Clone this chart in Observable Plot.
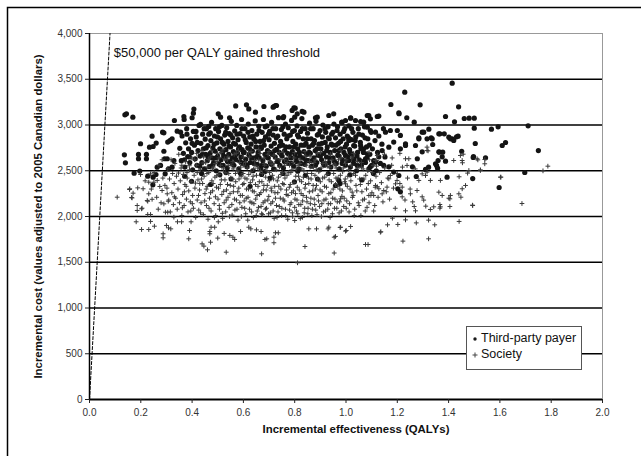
<!DOCTYPE html>
<html><head><meta charset="utf-8">
<script src="https://cdn.jsdelivr.net/npm/d3@7"></script>
<script src="https://cdn.jsdelivr.net/npm/@observablehq/plot@0.6"></script>
<style>
body{margin:0;background:#fff;}
#wrap{position:relative;width:641px;height:456px;overflow:hidden;background:#fff;}
#wrap > svg{position:absolute;left:0;top:0;}
#legend{position:absolute;left:466px;top:326px;width:114px;height:42px;border:1px solid #555;background:#fff;font-family:"Liberation Sans",Arial,sans-serif;font-size:12.5px;color:#111;}
#legend .row{position:absolute;left:4px;height:16px;line-height:16px;white-space:nowrap;}
#legend svg{vertical-align:middle;margin-right:2px;}
</style></head><body>
<div id="wrap"><div id="legend"></div></div>
<script>
const xTicks = [0, 0.2, 0.4, 0.6, 0.8, 1.0, 1.2, 1.4, 1.6, 1.8, 2.0];
const yTicks = [0, 500, 1000, 1500, 2000, 2500, 3000, 3500, 4000];
const seriesNames = ["Third-party payer", "Society"];
const thresholdPerQALY = 50000;
const thresholdLabel = "$50,000 per QALY gained threshold";
const xTitle = "Incremental effectiveness (QALYs)";
const yTitle = "Incremental cost (values adjusted to 2005 Canadian dollars)";

// Third-party payer: [QALYs, cost]
const thirdParty = [
[0.138,3111],[0.144,3122],[0.169,3086],[0.136,2674],[0.140,2587],[0.174,2474],[0.199,2795],[0.191,2678],[0.222,2678],[0.191,2631],[0.222,2631],[0.196,2496],[0.227,2441],[0.248,2765],[0.260,2802],[0.244,2878],[0.285,2922],[0.264,2539],[0.277,2558],[0.248,2430],[0.259,2459],[0.295,2466],[0.308,2521],[0.305,2813],[0.316,2831],[0.331,3049],[0.342,2933],[0.368,3093],[0.407,3175],[0.400,3079],[0.502,3122],[0.570,3209],[0.612,3221],[0.621,3176],[0.647,3140],[0.680,3202],[0.719,3202],[0.729,3213],[0.790,3159],[0.802,3184],[0.829,3148],[0.800,3086],[0.755,3079],[0.546,3079],[0.511,3086],[0.881,3079],[0.433,3006],[0.465,2984],
[0.247,2346],[0.234,2758],[0.290,2915],[0.290,2713],[0.293,2631],[0.303,2631],[0.313,2827],[0.322,2849],[0.355,2922],[0.329,2612],[0.322,2539],[0.405,3129],[0.369,3060],
[1.414,3457],[1.229,3359],[1.175,3224],[1.289,3221],[1.439,3199],[1.207,3123],[1.388,3093],[1.461,3071],[1.480,3075],[1.500,3075],[1.237,3079],[1.266,3031],[1.423,3035],[1.500,2965],[1.567,2954],[1.593,2980],[1.710,2991],[1.504,2798],[1.609,2776],[1.622,2809],[1.750,2721],[1.377,2703],[1.364,2703],[1.497,2656],[1.697,2481],[1.597,2317],[1.494,2415],[1.394,2430],[1.388,2605],[1.353,2558],[1.359,2612],[1.322,2539],[1.274,2437],[1.431,2871],[1.414,2849],[1.401,2867],[1.383,2904],[1.366,2904],[1.323,2954],[1.297,2922],[1.284,2860],[1.332,2860],[1.338,2787],[1.357,2528],[1.202,2303],[1.437,2878],[1.451,2713],[1.496,2645],[1.544,2641],
[1.206,3133],[1.128,3097],[1.089,3104],[1.095,3068],[1.018,3075],[1.037,3049],[1.057,3038],[1.069,3031],[0.985,3031],[0.998,3049],[1.083,2976],[1.095,2940],[1.115,2922],[1.154,2922],[1.173,2940],[1.200,2940],[1.212,2886],[1.232,2795],[1.271,2776],[1.284,2849],[1.303,2922],[1.316,2849],[1.336,2849],[1.362,2904],[1.407,2849],[1.420,2831],[1.362,2707],[1.375,2652],[1.349,2576],[1.259,2543],[1.310,2514],[1.206,2448],[1.186,2485],[1.167,2543],[1.147,2558],[1.115,2594],[1.128,2652],[1.076,2631],[1.083,2685],[1.057,2776],[1.069,2740],[1.141,2721],[1.167,2758],[1.186,2813],[1.212,2740],[1.232,2776],[1.011,2831],[1.030,2776],[0.972,2721],[0.998,2667],[1.011,2612],[1.030,2631],[1.044,2558],[1.095,2543],[1.278,2631],[1.297,2707],[1.212,2270],[0.959,2339],[0.972,2394],
[0.725,3213],[0.716,3195],[0.757,3093],[0.797,3188],[0.810,3122],[0.836,3140],[0.888,3086],[0.933,3104],[0.952,3122],[1.018,3079],[1.083,3104],[1.122,3093],
[0.352,2745],[0.358,2610],[0.361,2880],[0.366,2690],[0.372,2540],[0.375,2805],[0.379,2960],[0.383,2655],[0.386,2740],[0.391,2590],[0.394,2850],[0.398,2700],[0.402,2510],[0.405,2930],[0.409,2780],[0.412,2630],[0.416,2870],[0.419,2560],[0.423,2720],[0.427,2995],[0.431,2660],[0.434,2800],[0.438,2590],[0.441,2900],[0.444,2740],[0.448,2520],[0.451,2845],[0.453,2680],
[0.456,2960],[0.459,2610],[0.462,2775],[0.465,2900],[0.467,2545],[0.470,2690],[0.473,2830],[0.476,3030],[0.478,2640],[0.481,2750],[0.484,2590],[0.487,2880],[0.489,2715],[0.492,2960],[0.494,2500],[0.497,2805],[0.500,2660],[0.503,2930],[0.505,2575],[0.508,2740],[0.511,2850],[0.513,2620],[0.516,2995],[0.519,2700],[0.521,2560],[0.524,2790],[0.527,2890],[0.529,2650],[0.532,2730],[0.535,2970],[0.537,2530],[0.540,2820],[0.543,2680],[0.545,2905],[0.548,2600],[0.550,2760],
[0.553,3040],[0.556,2640],[0.558,2860],[0.561,2710],[0.563,2560],[0.566,2935],[0.569,2790],[0.571,2620],[0.574,2995],[0.577,2690],[0.579,2840],[0.582,2520],[0.585,2760],[0.587,2905],[0.590,2650],[0.593,3060],[0.595,2730],[0.598,2580],[0.601,2880],[0.603,2700],[0.606,2960],[0.609,2625],[0.611,2810],[0.614,2545],[0.617,2750],[0.619,3010],[0.622,2670],[0.625,2870],[0.627,2590],[0.630,2790],[0.633,2940],[0.635,2715],[0.638,2500],[0.641,2845],[0.643,2640],[0.646,3045],[0.649,2760],
[0.652,2900],[0.654,2570],[0.657,2700],[0.660,2985],[0.662,2640],[0.665,2820],[0.668,2530],[0.670,2745],[0.673,2920],[0.676,2610],[0.678,3060],[0.681,2780],[0.684,2680],[0.686,2870],[0.689,2550],[0.692,2990],[0.694,2720],[0.697,2640],[0.700,2840],[0.702,2930],[0.705,2590],[0.708,2770],[0.710,3030],[0.713,2680],[0.716,2890],[0.718,2520],[0.721,2800],[0.724,2650],[0.726,2960],[0.729,2735],[0.732,2600],[0.734,2880],[0.737,3080],[0.740,2700],[0.742,2560],[0.745,2820],[0.748,2950],
[0.751,2660],[0.753,2780],[0.756,2530],[0.759,2900],[0.761,2720],[0.764,3010],[0.767,2620],[0.769,2850],[0.772,2690],[0.775,2970],[0.777,2580],[0.780,2760],[0.783,2890],[0.785,2640],[0.788,3050],[0.791,2710],[0.793,2820],[0.796,2550],[0.799,2940],[0.801,2680],[0.804,2790],[0.807,2600],[0.809,2990],[0.812,2740],[0.815,2870],[0.817,2520],[0.820,2660],[0.823,2930],[0.825,2780],[0.828,3070],[0.831,2640],[0.833,2850],[0.836,2710],[0.839,2570],[0.841,2960],[0.844,2800],[0.847,2680],
[0.850,2910],[0.853,2610],[0.855,2760],[0.858,3020],[0.861,2690],[0.864,2850],[0.866,2550],[0.869,2780],[0.872,2960],[0.875,2640],[0.877,2830],[0.880,2720],[0.883,3040],[0.886,2590],[0.888,2890],[0.891,2670],[0.894,2790],[0.897,2510],[0.899,2940],[0.902,2740],[0.905,2620],[0.908,2870],[0.910,3000],[0.913,2690],[0.916,2560],[0.919,2810],[0.921,2920],[0.924,2650],[0.927,2760],[0.930,2980],[0.933,2590],[0.935,2850],[0.938,2700],[0.941,2540],[0.944,2900],[0.947,2780],
[0.950,2640],[0.953,3010],[0.956,2720],[0.959,2860],[0.962,2580],[0.965,2940],[0.968,2670],[0.971,2800],[0.974,2520],[0.977,2900],[0.980,2740],[0.983,3030],[0.986,2620],[0.989,2850],[0.992,2700],[0.995,2960],[0.998,2560],[1.002,2790],[1.005,2880],[1.008,2650],[1.011,2990],[1.014,2730],[1.017,2540],[1.021,2840],[1.024,2680],[1.027,2920],[1.031,2610],[1.034,2770],[1.038,2870],[1.041,2500],[1.045,2700],[1.048,2960],
[1.052,2620],[1.056,2810],[1.060,2560],[1.064,2890],[1.068,2700],[1.072,2980],[1.076,2590],[1.080,2760],[1.085,2850],[1.089,2520],[1.093,2680],[1.098,2920],[1.103,2740],[1.108,2610],[1.113,2830],[1.118,2500],[1.123,2700],[1.128,2880],[1.134,2580],[1.140,2790],[1.146,2960],[1.152,2650],
[0.371,2440],[0.398,2385],[0.437,2470],[0.472,2350],[0.508,2455],[0.552,2410],[0.589,2470],[0.626,2330],[0.671,2460],[0.704,2420],[0.755,2470],[0.799,2380],[0.842,2450],[0.889,2410],[0.931,2470],[0.977,2360],[1.016,2455],[1.062,2400],[1.107,2470],[0.532,2480],[0.683,2490],[0.812,2495],
[0.462,2655],[0.471,2915],[0.479,2560],[0.486,2790],[0.493,2640],[0.499,2870],[0.507,2980],[0.512,2560],[0.518,2810],[0.523,2660],[0.531,2920],[0.538,2600],[0.544,2770],[0.551,2890],[0.557,2580],[0.562,2800],[0.568,2660],[0.575,2900],[0.581,2740],[0.588,2600],[0.594,2960],[0.600,2700],[0.607,2840],[0.613,2560],[0.618,2920],[0.624,2740],[0.631,2640],[0.637,2880],[0.642,2580],[0.648,2820],[0.655,2660],[0.661,2940],[0.667,2760],[0.672,2560],[0.679,2830],[0.685,2980],[0.691,2650],[0.698,2900],[0.703,2700],[0.709,2570],[0.715,2960],[0.722,2720],[0.728,2860],[0.735,2610],[0.741,2770],[0.747,2680],[0.754,2980],[0.760,2600],[0.766,2760],[0.773,2880],[0.779,2680],[0.786,2580],[0.792,2930],[0.798,2760],[0.805,2640],[0.811,2890],[0.818,2700],[0.824,2580],[0.830,2960],[0.837,2780],[0.843,2620],[0.849,2850],[0.856,2700],[0.862,2960],[0.868,2610],[0.874,2800],[0.881,2560],[0.887,2740],[0.893,2900],[0.900,2660],[0.906,2800],[0.912,2580],[0.918,2960],[0.925,2720],[0.931,2860],[0.937,2640],[0.943,2790],[0.949,2920],[0.955,2600],[0.961,2780],[0.967,2980],[0.973,2660],[0.979,2820],[0.985,2580],[0.991,2930],[0.997,2760],[1.004,2610],[1.010,2860],[1.016,2700],[1.022,2960],[1.029,2580],[1.036,2830],[1.043,2660],[1.050,2900],[1.058,2740],[1.066,2600],[1.074,2860],[1.082,2640],[1.091,2780],[1.100,2560],[0.420,2810],[0.430,2550],[0.440,2680],[0.447,2960],[0.455,2750],[0.390,2650],[0.400,2800],[0.380,2900],[0.370,2620],[0.415,2930]
];

// Society: [QALYs, cost]
const society = [
[0.108,2211],[0.164,2208],[0.186,2120],[0.186,2066],[0.227,2167],[0.203,2084],[0.227,2022],[0.238,2022],[0.182,1942],[0.203,1858],[0.231,1858],[0.238,1946],[0.253,1894],[0.287,1811],[0.287,1767],[0.300,1902],[0.308,1876],[0.317,1865],[0.307,2167],[0.296,2047],[0.343,1942],[0.359,1942],[0.387,1756],[0.390,1847],[0.396,1942],[0.439,1701],[0.446,1676],[0.460,1636],[0.472,1719],[0.500,1764],[0.533,1610],[0.525,1815],[0.547,1793],[0.559,1774],[0.566,1749],[0.589,1836],[0.469,1836],[0.469,1811],[0.474,1883],[0.488,1883],[0.502,1942],[0.621,1883],[0.629,1865],[0.651,1854],[0.669,1836],[0.671,1592],[0.684,1749],[0.691,1756],[0.719,1774],[0.719,1713],[0.725,1822],[0.736,1822],[0.811,1494],[0.840,1672],[0.954,1774],[0.954,1601],[0.979,1883],[0.930,1865],[0.933,1883],[0.855,1865],[0.885,1865],[0.800,1956],[0.998,1840],[1.076,1694],[1.086,1694],[1.134,1829],[1.222,1731],[1.322,1756],[1.001,1847],[0.977,1880],[1.018,1891],[0.959,1782],
[1.787,2550],[1.768,2499],[1.686,2142],[1.604,2430],[1.493,2124],[1.441,1946],[1.541,2623],[1.541,2576],[1.514,2619],[1.474,2474],[1.524,2503],[1.454,2587],[1.457,2681],[1.441,2434],[1.320,2717],[1.448,2211],[1.401,2200],[1.366,2131],[1.366,2091],[1.405,2109],[1.329,2077],[1.311,2113],[1.271,2062],[1.266,2109],[1.346,1909],[1.322,1960],[1.274,1930],[1.232,1963],[1.202,1913],[1.162,1909],[1.181,1982],[1.232,2062],[1.136,1833],
[0.157,2303],[0.170,2255],[0.209,2303],[0.231,2248],[0.251,2375],[0.225,2175],[0.156,2295],[0.188,2313],[0.166,2203],[0.205,2091],[0.199,2459],[0.238,2466],[0.231,2375],[0.264,2394],[0.274,2328],[0.244,2188],[0.283,2284],[0.303,2248],[0.290,2138],[0.305,2047],[0.329,1993],
[1.122,2325],[1.147,2284],[1.160,2321],[1.108,2230],[1.199,2394],[1.219,2321],[1.251,2248],[1.277,2284],[1.297,2215],[1.303,2179],[1.329,2394],[1.310,2448],[1.368,2394],[1.407,2230],[1.405,2193],[1.440,2248],[1.453,2303],[1.466,2339],[1.494,2120],[1.420,2612],[1.453,2612],[1.479,2503],[1.524,2510],[1.602,2430],[1.446,2667],[1.511,2631],[1.316,2721],[1.316,2758],[1.342,2106],[1.368,2106],
[1.122,2667],[1.115,2612],[1.232,2631],[1.245,2631],[1.238,2558],[1.167,2412],[1.173,2448],[1.297,2466],[1.316,2485],[1.284,2394],[1.115,2339],[1.128,2303],[1.089,2230],[1.141,2248],[1.362,2266],[1.375,2230],[0.998,2357],[1.024,2266],[0.979,2193],[1.193,2357],[1.219,2215],
[0.252,2480],[0.262,2210],[0.271,2560],[0.279,2150],[0.286,2420],[0.294,2340],[0.241,2300],[0.217,2390],[0.268,2080],[0.283,2620],
[0.302,2310],[0.305,2520],[0.309,2180],[0.312,2410],[0.315,2050],[0.318,2620],[0.321,2260],[0.324,2470],[0.327,2130],[0.330,2360],[0.333,2580],[0.336,2200],[0.339,2440],[0.342,2080],[0.345,2300],[0.348,2680],[0.351,2150],[0.354,2390],[0.357,2530],[0.360,2010],[0.363,2240],[0.366,2460],[0.369,2120],[0.372,2350],[0.375,2600],[0.378,2190],[0.381,2420],[0.384,2050],[0.387,2280],[0.390,2510],[0.393,2160],[0.396,2380],[0.399,2640],
[0.402,2230],[0.405,2090],[0.408,2450],[0.411,2310],[0.414,1990],[0.417,2560],[0.420,2180],[0.423,2400],[0.426,2070],[0.429,2290],[0.432,2510],[0.435,2150],[0.438,2720],[0.441,2360],[0.444,2020],[0.447,2440],[0.450,2250],[0.453,2590],[0.456,2120],[0.459,2330],[0.462,1970],[0.465,2480],[0.468,2200],[0.471,2650],[0.474,2060],[0.477,2390],[0.480,2280],[0.483,2540],[0.486,2140],[0.489,2430],[0.492,2010],[0.495,2320],[0.498,2600],
[0.501,2190],[0.504,2460],[0.507,2080],[0.510,2350],[0.513,2700],[0.516,2240],[0.519,1980],[0.522,2520],[0.525,2150],[0.528,2400],[0.531,2050],[0.534,2290],[0.537,2620],[0.540,2210],[0.543,2470],[0.546,2000],[0.549,2340],[0.552,2560],[0.555,2130],[0.558,2410],[0.561,2270],[0.564,2680],[0.567,2070],[0.570,2380],[0.573,2180],[0.576,2500],[0.579,1960],[0.582,2310],[0.585,2590],[0.588,2230],[0.591,2440],[0.594,2100],[0.597,2350],
[0.600,2650],[0.603,2170],[0.606,2420],[0.609,2030],[0.612,2300],[0.615,2530],[0.618,2210],[0.621,2460],[0.624,2080],[0.627,2370],[0.630,2710],[0.633,2150],[0.636,2400],[0.639,1990],[0.642,2270],[0.645,2560],[0.648,2190],[0.651,2450],[0.654,2060],[0.657,2330],[0.660,2620],[0.663,2240],[0.666,2500],[0.669,2110],[0.672,2380],[0.675,2020],[0.678,2290],[0.681,2580],[0.684,2170],[0.687,2430],[0.690,2090],[0.693,2340],[0.696,2680],
[0.699,2220],[0.702,2480],[0.705,2040],[0.708,2310],[0.711,2570],[0.714,2160],[0.717,2410],[0.720,1980],[0.723,2260],[0.726,2630],[0.729,2120],[0.732,2390],[0.735,2050],[0.738,2330],[0.741,2540],[0.744,2200],[0.747,2460],[0.750,2090],[0.753,2360],[0.756,2700],[0.759,2170],[0.762,2420],[0.765,2010],[0.768,2290],[0.771,2590],[0.774,2230],[0.777,2480],[0.780,2070],[0.783,2350],[0.786,2150],[0.789,2510],[0.792,2000],[0.795,2280],
[0.798,2640],[0.801,2190],[0.804,2440],[0.807,2060],[0.810,2320],[0.813,2560],[0.816,2130],[0.819,2400],[0.822,1980],[0.825,2250],[0.828,2520],[0.831,2170],[0.834,2430],[0.837,2040],[0.840,2310],[0.843,2660],[0.846,2210],[0.849,2470],[0.852,2090],[0.855,2360],[0.858,2600],[0.861,2140],[0.864,2410],[0.867,2010],[0.870,2280],[0.873,2540],[0.876,2190],[0.879,2450],[0.882,2070],[0.885,2340],[0.888,2690],[0.891,2230],[0.894,2490],
[0.897,2110],[0.900,2380],[0.904,2000],[0.907,2270],[0.910,2580],[0.914,2180],[0.917,2430],[0.920,2060],[0.924,2320],[0.927,2550],[0.931,2140],[0.934,2400],[0.938,1990],[0.941,2260],[0.945,2620],[0.948,2200],[0.952,2470],[0.955,2090],[0.959,2350],[0.962,2530],[0.966,2160],[0.969,2420],[0.973,2040],[0.976,2300],[0.980,2640],[0.984,2220],[0.987,2490],[0.991,2110],[0.995,2380],[0.998,2580],
[1.003,2170],[1.007,2440],[1.012,2050],[1.016,2300],[1.021,2560],[1.025,2210],[1.030,2470],[1.034,2080],[1.039,2340],[1.044,2600],[1.048,2150],[1.053,2410],[1.058,2010],[1.062,2270],[1.067,2520],[1.072,2190],[1.077,2450],[1.082,2100],[1.087,2360],[1.092,2620],[1.097,2230],[1.103,2480],[1.108,2060],[1.114,2320],[1.119,2550],
[0.331,2215],[0.347,2475],[0.362,2095],[0.377,2330],[0.389,2555],[0.401,2140],[0.413,2365],[0.418,2690],[0.425,2230],[0.433,2040],[0.437,2410],[0.443,2585],[0.449,2170],[0.455,2300],[0.458,2470],[0.463,2625],[0.466,2090],[0.472,2260],[0.479,2520],[0.482,2360],[0.487,1990],[0.491,2215],[0.496,2445],[0.499,2690],[0.503,2310],[0.506,2120],[0.511,2560],[0.514,2400],[0.518,2035],[0.523,2275],[0.526,2630],[0.529,2480],[0.533,2180],[0.538,2350],[0.541,2560],[0.544,2100],[0.548,2250],[0.551,2420],[0.556,2015],[0.559,2600],[0.562,2330],[0.565,2190],[0.569,2470],[0.572,2690],[0.575,2080],[0.578,2270],[0.583,2410],[0.586,2150],[0.589,2540],[0.592,2000],[0.596,2230],[0.599,2470],
[0.602,2360],[0.605,2090],[0.608,2590],[0.611,2200],[0.614,2410],[0.617,1960],[0.620,2300],[0.623,2650],[0.626,2160],[0.629,2490],[0.632,2050],[0.635,2280],[0.638,2440],[0.641,2140],[0.644,2610],[0.647,2350],[0.650,2010],[0.653,2230],[0.656,2530],[0.659,2100],[0.662,2380],[0.665,2690],[0.668,2260],[0.671,2030],[0.674,2470],[0.677,2150],[0.680,2340],[0.683,2560],[0.686,2080],[0.689,2290],[0.692,2500],[0.695,2180],
[0.698,2030],[0.701,2390],[0.704,2600],[0.707,2140],[0.710,2280],[0.713,2450],[0.716,2060],[0.719,2670],[0.722,2330],[0.725,2200],[0.728,2510],[0.731,1990],[0.734,2260],[0.737,2430],[0.740,2110],[0.743,2620],[0.746,2300],[0.749,2010],[0.752,2480],[0.755,2190],[0.758,2350],[0.761,2560],[0.764,2080],[0.767,2240],[0.770,2450],[0.773,1970],[0.776,2650],[0.779,2320],[0.782,2130],[0.785,2480],[0.788,2260],[0.791,2040],[0.794,2590],
[0.797,2370],[0.800,2100],[0.803,2250],[0.806,2520],[0.809,2180],[0.812,2030],[0.815,2440],[0.818,2290],[0.821,2620],[0.824,2130],[0.827,2380],[0.830,1990],[0.833,2230],[0.836,2500],[0.839,2090],[0.842,2350],[0.845,2560],[0.848,2160],[0.851,2030],[0.854,2420],[0.857,2270],[0.860,2660],[0.863,2200],[0.866,2470],[0.869,2080],[0.872,2340],[0.875,2590],[0.878,2130],[0.881,2300],[0.884,2510],[0.887,2020],[0.890,2410],[0.893,2170],
[0.899,2290],[0.903,2530],[0.906,2140],[0.909,2420],[0.912,2050],[0.916,2330],[0.919,2600],[0.922,2190],[0.926,2460],[0.929,2080],[0.933,2250],[0.936,2540],[0.940,2140],[0.943,2380],[0.947,2030],[0.950,2300],[0.954,2570],[0.957,2190],[0.961,2420],[0.964,2090],[0.968,2330],[0.971,2620],[0.975,2160],[0.978,2450],[0.982,2060],[0.986,2280],[0.989,2530],[0.993,2200],[0.997,2410],
[1.001,2090],[1.005,2330],[1.010,2510],[1.014,2140],[1.019,2390],[1.023,2640],[1.028,2230],[1.032,2010],[1.037,2450],[1.042,2280],[1.046,2530],[1.051,2120],[1.056,2350],[1.060,2590],[1.065,2180],[1.070,2410],[1.075,2060],[1.080,2300],[1.085,2500],[1.090,2150],[1.096,2390],[1.101,2260],[1.106,2560],[1.112,2120],[1.117,2440],[1.125,2210],[1.131,2480],[1.138,2370],[1.144,2160],[1.151,2530],[1.157,2270],[1.163,2420],[1.170,2190],[1.178,2560],[1.185,2310],[1.192,2090],[1.200,2470],[1.210,2360],[1.220,2540],[1.230,2180],[1.240,2420],[1.250,2300],[1.260,2160],[1.270,2520],
[0.360,2560],[0.370,2270],[0.380,2480],[0.395,2060],[0.410,2620],[0.420,2480],[0.430,2360],[0.445,2650],[0.460,2540],[0.475,2720],[0.490,2580],[0.505,2640],[0.520,2730],[0.540,2650],[0.560,2520],[0.580,2720],[0.600,2560],[0.620,2700],[0.640,2520],[0.660,2730],[0.680,2640],[0.700,2710],[0.720,2580],[0.740,2700],[0.760,2620],[0.780,2560],[0.800,2700],[0.820,2580],[0.840,2710],[0.860,2540],[0.880,2620],[0.900,2700],[0.920,2580],[0.940,2680],[0.960,2560],[0.980,2720],[1.000,2620],[1.030,2690],[1.060,2540],[1.090,2700],[1.120,2610],[1.150,2680],[1.180,2640],[1.210,2690]
];

const font = '"Liberation Sans", Arial, sans-serif';
const yMax = yTicks[yTicks.length - 1];
const thresholdLine = [[0, 0], [yMax / thresholdPerQALY, yMax]];

const chart = Plot.plot({
  width: 641, height: 456,
  marginLeft: 89, marginRight: 39, marginTop: 33, marginBottom: 57,
  style: {fontFamily: font, fontSize: "10px", color: "#222", background: "transparent", overflow: "visible"},
  x: {domain: [0, 2]},
  y: {domain: [0, yMax]},
  marks: [
    Plot.ruleY(yTicks.filter(d => d > 0 && d < yMax), {stroke: "#000", strokeWidth: 1.5}),
    Plot.ruleY([yMax], {stroke: "#999", strokeWidth: 1}),
    Plot.ruleX([2], {stroke: "#999", strokeWidth: 1}),
    Plot.line(thresholdLine, {x: d => d[0], y: d => d[1], stroke: "#000", strokeWidth: 1, strokeDasharray: "3,2"}),
    Plot.text([thresholdLabel], {x: 0.095, y: 3790, text: d => d, textAnchor: "start", fontSize: 13, fill: "#111"}),
    Plot.dot(thirdParty, {x: d => d[0], y: d => d[1], r: 2.6, fill: "#141414", stroke: "none"}),
    Plot.dot(society, {x: d => d[0], y: d => d[1], symbol: "plus", r: 1.65, stroke: "#3a3a3a", strokeWidth: 1}),
    Plot.ruleX([0], {stroke: "#000", strokeWidth: 1.5}),
    Plot.ruleY([0], {stroke: "#000", strokeWidth: 2}),
    Plot.axisX({ticks: xTicks, tickFormat: d3.format(".1f"), tickSize: 4, tickPadding: 5, label: null, fill: "#333"}),
    Plot.axisY({ticks: yTicks, tickFormat: d3.format(","), tickSize: 4, tickPadding: 3, label: null, fill: "#333"}),
    Plot.text([xTitle], {frameAnchor: "bottom", dy: 33, dx: 10, text: d => d, textAnchor: "middle", fontWeight: "bold", fontSize: 11.4, fill: "#111"}),
    Plot.text([yTitle], {frameAnchor: "left", dx: -51, rotate: -90, text: d => d, textAnchor: "middle", fontWeight: "bold", fontSize: 11.4, fill: "#111"})
  ]
});
// outer picture border (top and left edges)
d3.select(chart).append("path").attr("d", "M7.5,456V7.5H641").attr("fill", "none").attr("stroke", "#000").attr("stroke-width", 1.5);

const wrap = document.getElementById("wrap");
wrap.insertBefore(chart, wrap.firstChild);

// Legend
const legend = document.getElementById("legend");
const sym = [
  '<svg width="8" height="8"><circle cx="4" cy="4" r="1.7" fill="#1a1a1a"/></svg>',
  '<svg width="8" height="8"><path d="M1.5,4H6.5M4,1.5V6.5" stroke="#444" stroke-width="1"/></svg>'
];
seriesNames.forEach((name, i) => {
  const row = document.createElement("div");
  row.className = "row";
  row.style.top = (3 + i * 16) + "px";
  row.innerHTML = sym[i] + name;
  legend.appendChild(row);
});
</script>
</body></html>
